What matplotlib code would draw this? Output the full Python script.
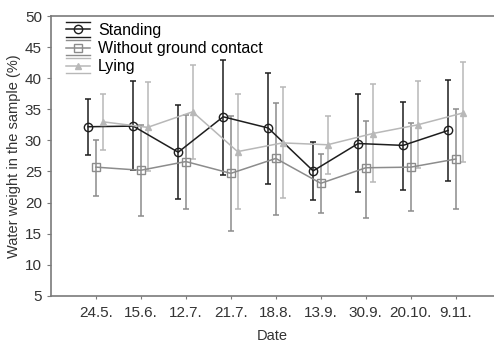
import matplotlib.pyplot as plt
import numpy as np
from matplotlib.legend_handler import HandlerBase
from matplotlib.lines import Line2D

plt.rcParams['font.family'] = ['Liberation Sans', 'DejaVu Sans']

dates = ['24.5.', '15.6.', '12.7.', '21.7.', '18.8.', '13.9.', '30.9.', '20.10.', '9.11.']

# mean with upper / lower end of the error bar
standing = [32.2, 32.3, 28.1, 33.8, 32.0, 25.1, 29.5, 29.2, 31.6]
standing_hi = [36.7, 39.6, 35.7, 42.9, 40.8, 29.8, 37.5, 36.1, 39.7]
standing_lo = [27.7, 25.2, 20.6, 24.5, 23.0, 20.4, 21.7, 22.1, 23.5]

no_contact = [25.7, 25.2, 26.6, 24.7, 27.1, 23.1, 25.6, 25.7, 27.0]
no_contact_hi = [30.0, 32.5, 34.1, 34.0, 36.0, 27.8, 33.2, 32.8, 35.1]
no_contact_lo = [21.1, 17.9, 19.0, 15.5, 18.0, 18.3, 17.5, 18.7, 18.9]

lying = [33.0, 32.1, 34.6, 28.2, 29.6, 29.3, 31.1, 32.5, 34.4]
lying_hi = [37.5, 39.4, 42.1, 37.5, 38.6, 34.0, 39.1, 39.5, 42.6]
lying_lo = [28.5, 25.0, 27.0, 18.9, 20.8, 24.6, 23.3, 25.5, 26.6]

x = np.arange(1, len(dates) + 1)


class ErrHandle(HandlerBase):
    # legend key: line with marker plus the two error bar lines above and below
    def create_artists(self, legend, orig, xd, yd, w, h, fs, trans):
        col = orig.get_color()
        out = []
        for dy, lw in ((0.5 * h + 5.5, 1.0), (0.5 * h, orig.get_linewidth()), (0.5 * h - 5.5, 1.0)):
            ln = Line2D([xd, xd + w], [yd + dy, yd + dy], color=col, lw=lw, transform=trans)
            out.append(ln)
        mk = Line2D([xd + w / 2], [yd + h / 2], marker=orig.get_marker(), ms=orig.get_markersize(),
                    mfc=orig.get_markerfacecolor(), mec=col, ls='none', transform=trans)
        out.append(mk)
        return out


fig = plt.figure(figsize=(4.94, 3.42), dpi=100)
ax = fig.add_axes([0.103, 0.135, 0.897, 0.818])

series = [
    ('Standing', standing, standing_hi, standing_lo, -0.17, '#1e1e1e', 'o', 'none'),
    ('Without ground contact', no_contact, no_contact_hi, no_contact_lo, 0.0, '#8c8c8c', 's', 'none'),
    ('Lying', lying, lying_hi, lying_lo, 0.15, '#b8b8b8', '^', '#b8b8b8'),
]

handles = []
for name, m, hi, lo, dx, col, mk, fc in series:
    m = np.array(m)
    err = [m - np.array(lo), np.array(hi) - m]
    ms = 6 if mk != '^' else 4.5
    ax.errorbar(x + dx, m, yerr=err, color=col, marker=mk, mfc=fc, mec=col,
                ms=ms, lw=1.1, elinewidth=1.1, capsize=2.5, capthick=1.1)
    handles.append(Line2D([], [], color=col, marker=mk, mfc=fc, ms=ms, lw=1.1, label=name))

ax.set_xlim(0, 9.85)
ax.set_ylim(5, 50)
ax.set_yticks(range(5, 51, 5))
ax.set_xticks(x)
ax.set_xticklabels(dates)

for s in ['left', 'bottom', 'top']:
    ax.spines[s].set_color('#7a7a7a')
    ax.spines[s].set_linewidth(1.2)
ax.spines['right'].set_visible(False)
ax.tick_params(colors='#7a7a7a', labelcolor='#333333', labelsize=11, length=3)
ax.tick_params(axis='x', pad=5, length=2)

ax.set_xlabel('Date', fontsize=10.5, color='#333333', labelpad=7)
ax.set_ylabel('Water weight in the sample (%)', fontsize=10.5, color='#333333', labelpad=3)

ax.legend(handles=handles, handler_map={Line2D: ErrHandle()}, loc='upper left',
          frameon=False, fontsize=11.5, handlelength=1.5, handletextpad=0.5,
          labelspacing=0.2, borderaxespad=0.0, bbox_to_anchor=(0.02, 0.998))

fig.savefig('out.png', dpi=100)
